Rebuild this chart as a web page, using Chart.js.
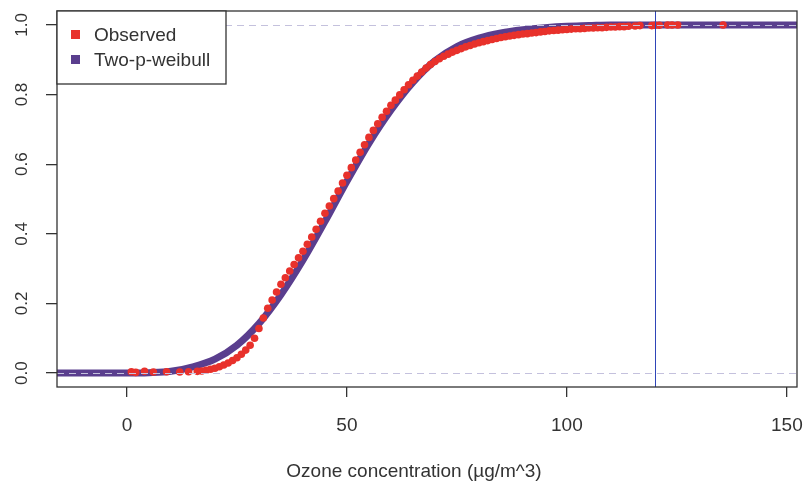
<!DOCTYPE html>
<html>
<head>
<meta charset="utf-8">
<script src="https://cdn.jsdelivr.net/npm/chart.js@4.4.1/dist/chart.umd.min.js"></script>
<style>
  body { margin: 0; background: #fff; }
</style>
</head>
<body>
<canvas id="cdf" width="807" height="490"></canvas>
<script>
// observed empirical CDF (red dots)
const obsX = [1, 2, 4, 6, 9, 12, 14,
  16, 17, 18, 19, 20, 21, 22, 23, 24, 25, 26, 27, 28, 29, 30,
  31, 32, 33, 34, 35, 36, 37, 38, 39, 40, 41, 42, 43, 44, 45,
  46, 47, 48, 49, 50, 51, 52, 53, 54, 55, 56, 57, 58, 59, 60,
  61, 62, 63, 64, 65, 66, 67, 68, 69, 70, 71, 72, 73, 74, 75,
  76, 77, 78, 79, 80, 81, 82, 83, 84, 85, 86, 87, 88, 89, 90,
  91, 92, 93, 94, 95, 96, 97, 98, 99, 100, 101, 102, 103, 104, 105,
  106, 107, 108, 109, 110, 111, 112, 113, 114,
  115.5, 116.6, 119.3, 120, 121, 122.9, 123.9, 125.2, 135.5];
const obsY = [0.004, 0.002, 0.005, 0.003, 0.004, 0.003, 0.004,
  0.005, 0.006, 0.008, 0.011, 0.014, 0.018, 0.023, 0.029, 0.036, 0.044, 0.054, 0.066, 0.080, 0.100, 0.128,
  0.158, 0.186, 0.210, 0.233, 0.255, 0.274, 0.293, 0.312, 0.331, 0.350, 0.370, 0.391, 0.413, 0.436, 0.459,
  0.480, 0.501, 0.523, 0.546, 0.568, 0.590, 0.612, 0.634, 0.656, 0.677, 0.697, 0.716, 0.735, 0.752, 0.769,
  0.784, 0.799, 0.814, 0.828, 0.841, 0.853, 0.865, 0.876, 0.886, 0.895, 0.903, 0.910, 0.916, 0.922, 0.927,
  0.932, 0.937, 0.941, 0.945, 0.949, 0.952, 0.955, 0.958, 0.961, 0.964, 0.966, 0.968, 0.970, 0.972, 0.974,
  0.975, 0.977, 0.978, 0.980, 0.981, 0.983, 0.984, 0.985, 0.986, 0.987, 0.988, 0.989, 0.989, 0.990, 0.991,
  0.991, 0.992, 0.992, 0.993, 0.994, 0.994, 0.995, 0.995, 0.996,
  0.997, 0.998, 0.998, 0.999, 0.999, 1.0, 1.0, 1.0, 1.0];

// fitted two-parameter weibull CDF (purple band)
const fitX = [-16, 0, 5, 10, 15, 20, 25, 30, 35, 40, 45, 50, 55, 60,
  65, 70, 75, 80, 85, 90, 95, 100, 105, 110, 153];
const fitY = [0, 0, 0.001, 0.005, 0.018, 0.040, 0.080, 0.142, 0.225, 0.324, 0.435, 0.551, 0.660, 0.755,
  0.835, 0.897, 0.938, 0.962, 0.977, 0.986, 0.992, 0.996, 0.998, 1, 1];

const seriesNames = ['Observed', 'Two-p-weibull'];
const seriesColors = ['#e8312b', '#5a3e8e'];

const xTicks = [0, 50, 100, 150];
const yTicks = [0, 0.2, 0.4, 0.6, 0.8, 1];
const yTickLabels = ['0.0', '0.2', '0.4', '0.6', '0.8', '1.0'];
const xTitle = 'Ozone concentration (µg/m^3)';
const refLines = [0, 1];
const cutoff = 120;

const font = '"Liberation Sans", Arial, sans-serif';
const ink = '#333';

const toPoints = (xs, ys) => xs.map((v, i) => ({ x: v, y: ys[i] }));

const rFrame = {
	id: 'rFrame',
	beforeDraw(chart) {
		const { ctx } = chart;
		ctx.save();
		ctx.fillStyle = '#fff';
		ctx.fillRect(0, 0, chart.width, chart.height);
		ctx.restore();
	},
	afterDatasetsDraw(chart) {
		const { ctx, chartArea: a, scales: { x, y } } = chart;
		ctx.save();
		ctx.beginPath();
		ctx.rect(a.left, a.top, a.right - a.left, a.bottom - a.top);
		ctx.clip();
		// dashed guides at 0 and 1
		ctx.strokeStyle = '#c4c1dd';
		ctx.lineWidth = 1;
		ctx.setLineDash([7, 5]);
		refLines.forEach(v => {
			const py = Math.round(y.getPixelForValue(v)) + 0.5;
			ctx.beginPath();
			ctx.moveTo(a.left, py);
			ctx.lineTo(a.right, py);
			ctx.stroke();
		});
		ctx.setLineDash([]);
		// limit line
		const px = Math.round(x.getPixelForValue(cutoff)) + 0.5;
		ctx.strokeStyle = '#2f45b8';
		ctx.beginPath();
		ctx.moveTo(px, a.top);
		ctx.lineTo(px, a.bottom);
		ctx.stroke();
		ctx.restore();

		ctx.save();
		// plot box
		ctx.strokeStyle = ink;
		ctx.lineWidth = 1.3;
		ctx.strokeRect(a.left, a.top, a.right - a.left, a.bottom - a.top);

		// rotated y tick labels, like R's las = 0
		ctx.fillStyle = ink;
		ctx.font = '17px ' + font;
		ctx.textAlign = 'center';
		ctx.textBaseline = 'alphabetic';
		yTicks.forEach((v, i) => {
			ctx.save();
			ctx.translate(27, y.getPixelForValue(v));
			ctx.rotate(-Math.PI / 2);
			ctx.fillText(yTickLabels[i], 0, 0);
			ctx.restore();
		});

		// x axis title (sits a little left of centre in the scan)
		ctx.font = '19px ' + font;
		ctx.textBaseline = 'middle';
		ctx.fillText(xTitle, a.left + (a.right - a.left) / 2 - 13, 472);

		// legend, top-left inside the box
		const lx = a.left, ly = a.top, lw = 169, lh = 73;
		ctx.fillStyle = '#fff';
		ctx.fillRect(lx, ly, lw, lh);
		ctx.strokeRect(lx, ly, lw, lh);
		ctx.textAlign = 'left';
		seriesNames.forEach((name, i) => {
			const cy = ly + 24 + i * 25;
			ctx.fillStyle = seriesColors[i];
			ctx.fillRect(lx + 14, cy - 5, 9, 9);
			ctx.fillStyle = ink;
			ctx.fillText(name, lx + 37, cy + 1);
		});
		ctx.restore();
	}
};

new Chart(document.getElementById('cdf'), {
	type: 'scatter',
	data: {
		datasets: [
			{
				label: seriesNames[0],
				data: toPoints(obsX, obsY),
				backgroundColor: seriesColors[0],
				borderWidth: 0,
				pointRadius: 3.8,
				pointHoverRadius: 3.8
			},
			{
				label: seriesNames[1],
				data: toPoints(fitX, fitY),
				showLine: true,
				borderColor: seriesColors[1],
				borderWidth: 7,
				cubicInterpolationMode: 'monotone',
				pointRadius: 0,
				pointHoverRadius: 0,
				clip: 0
			}
		]
	},
	options: {
		responsive: false,
		animation: false,
		events: [],
		layout: { padding: { top: 11, right: 10, left: 0, bottom: 0 } },
		plugins: { legend: { display: false }, tooltip: { enabled: false } },
		scales: {
			x: {
				type: 'linear',
				min: -15.9,
				max: 152.3,
				afterBuildTicks: s => { s.ticks = xTicks.map(v => ({ value: v })); },
				afterFit: s => {
					s.height = 103;
					s.paddingLeft = 0;
					s.paddingRight = 0;
				},
				ticks: { color: ink, font: { family: font, size: 19 }, padding: 17, maxRotation: 0 },
				grid: { drawOnChartArea: false, drawTicks: true, tickLength: 10, color: ink, lineWidth: 1.3 },
				border: { display: false }
			},
			y: {
				type: 'linear',
				min: -0.04,
				max: 1.04,
				afterBuildTicks: s => { s.ticks = yTicks.map(v => ({ value: v })); },
				afterFit: s => {
					s.width = 57;
					s.paddingTop = 0;
					s.paddingBottom = 0;
				},
				ticks: { display: false },
				grid: { drawOnChartArea: false, drawTicks: true, tickLength: 11, color: ink, lineWidth: 1.3 },
				border: { display: false }
			}
		}
	},
	plugins: [rFrame]
});
</script>
</body>
</html>
